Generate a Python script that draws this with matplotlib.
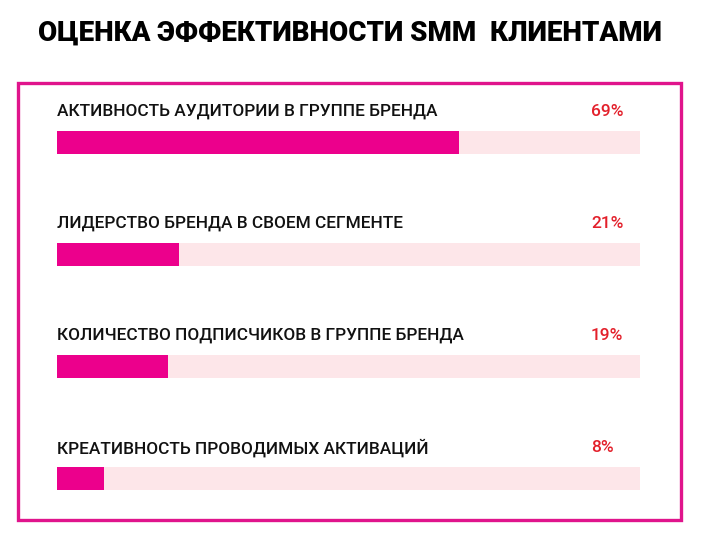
import matplotlib
matplotlib.use("Agg")
import matplotlib.pyplot as plt
from matplotlib.patches import Rectangle

# Data
categories = [
    "АКТИВНОСТЬ АУДИТОРИИ В ГРУППЕ БРЕНДА",
    "ЛИДЕРСТВО БРЕНДА В СВОЕМ СЕГМЕНТЕ",
    "КОЛИЧЕСТВО ПОДПИСЧИКОВ В ГРУППЕ БРЕНДА",
    "КРЕАТИВНОСТЬ ПРОВОДИМЫХ АКТИВАЦИЙ",
]
values = [69, 21, 19, 8]
title = "ОЦЕНКА ЭФФЕКТИВНОСТИ SMM  КЛИЕНТАМИ"

FILL = "#ec008c"
BACK = "#fde6e9"
RED = "#e3202b"
BORDER = "#e0148c"
W, H = 704, 542

plt.rcParams['font.family'] = ['Roboto', 'DejaVu Sans']

fig = plt.figure(figsize=(W / 100, H / 100), dpi=100)
fig.patch.set_facecolor("white")

# pink frame around the bars
fig.patches.append(Rectangle((18 / W, 1 - 520 / H), 663 / W, 437 / H,
                             transform=fig.transFigure, fill=False,
                             edgecolor=BORDER, linewidth=2.4))

# axes covering the bar area; one row = 112 px
row_px = 112
top = 142.5 - row_px / 2
ax = fig.add_axes([57 / W, 1 - (top + 4 * row_px) / H, 583 / W, 4 * row_px / H])
ax.set_xlim(0, 100)
ax.set_ylim(3.5, -0.5)
ax.axis("off")

ypos = list(range(len(categories)))
bar_h = 23 / row_px
ax.barh(ypos, [100] * len(values), height=bar_h, color=BACK, linewidth=0)
ax.barh(ypos, values, height=bar_h, color=FILL, linewidth=0)

label_off = 31 / row_px
for y, cat, v in zip(ypos, categories, values):
    ax.text(0, y - label_off, cat, fontsize=12.4, color="#111111",
            va="center", ha="left", fontweight="medium")
    ax.text(91.6, y - label_off, f"{v}%", fontsize=12.5, color=RED,
            va="center", ha="left", fontweight="medium")

t = fig.text(350 / W, 1 - 33 / H, title, fontsize=18, fontweight="black",
             ha="center", va="center", color="black")

# stretch title to the width it has in the reference
fig.canvas.draw()
r = fig.canvas.get_renderer()
bb = t.get_window_extent(r)
t.set_fontsize(18 * 624 / bb.width)

fig.savefig("out.png", dpi=100)
